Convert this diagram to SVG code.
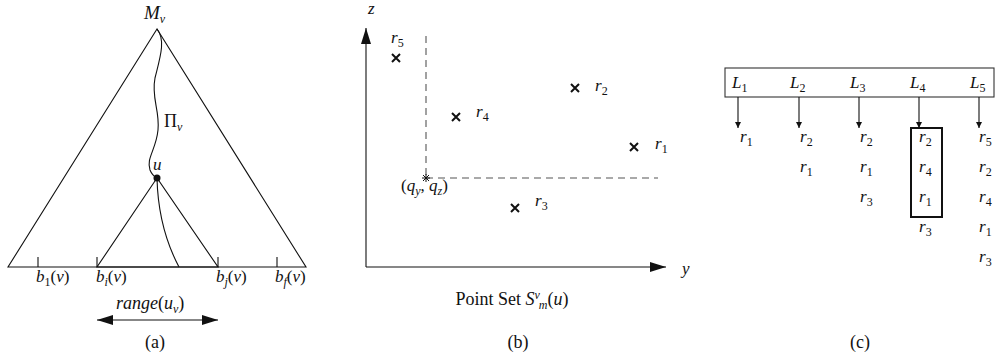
<svg xmlns="http://www.w3.org/2000/svg" width="995" height="358" viewBox="0 0 995 358">
<style>
text{font-family:"Liberation Serif",serif;font-size:17px;fill:#111}
.i{font-style:italic}
.s{font-size:12px;font-style:italic}
.sr{font-size:12px;font-style:normal}
.ln{stroke:#111;stroke-width:1.1;fill:none}
.dash{stroke:#555;stroke-width:1.1;stroke-dasharray:7,5;fill:none}
.x{stroke:#111;stroke-width:2;fill:none}
.cap{font-size:18px}
</style>
<defs>
<marker id="ah" viewBox="0 0 10 10" refX="10" refY="5" markerWidth="6" markerHeight="9" markerUnits="userSpaceOnUse" orient="auto-start-reverse"><path d="M0,0 L10,5 L0,10 z" fill="#111"/></marker>
<marker id="big" viewBox="0 0 16 10" refX="16" refY="5" markerWidth="16" markerHeight="10" markerUnits="userSpaceOnUse" orient="auto-start-reverse"><path d="M0,0 L16,5 L0,10 z" fill="#111"/></marker>
</defs>

<g id="panel-a">
<g id="tree">
<path class="ln" d="M157,29 L8,267 L306,267 Z"/>
<path class="ln" d="M157,178 L97,267 L218,267 Z"/>
<path class="ln" d="M157,29 C166,40 160,58 155,78 C151,98 160,110 158,130 C156,150 146,158 150,170 C152,175 155,177 157,178"/>
<path class="ln" d="M157,178 C158,220 170,250 179,267"/>
<circle cx="157" cy="178" r="3.5" fill="#111"/>
<path class="ln" d="M38,257 V267 M97,257 V267 M218,257 V267 M277,257 V267"/>
</g>
<text class="i" x="144" y="19" style="font-size:19px">M<tspan class="s" dy="4">v</tspan></text>
<text x="164" y="127" style="font-size:18px">Π<tspan class="s" dy="4">v</tspan></text>
<text class="i" x="153" y="170">u</text>
<text class="i" x="36" y="282">b<tspan class="sr" dy="4">1</tspan><tspan dy="-4" font-style="normal">(</tspan>v<tspan font-style="normal">)</tspan></text>
<text class="i" x="96" y="282">b<tspan class="s" dy="4">i</tspan><tspan dy="-4" font-style="normal">(</tspan>v<tspan font-style="normal">)</tspan></text>
<text class="i" x="216" y="282">b<tspan class="s" dy="4">j</tspan><tspan dy="-4" font-style="normal">(</tspan>v<tspan font-style="normal">)</tspan></text>
<text class="i" x="275" y="282">b<tspan class="s" dy="4">f</tspan><tspan dy="-4" font-style="normal">(</tspan>v<tspan font-style="normal">)</tspan></text>
<text class="i" x="116" y="309" style="font-size:18px">range<tspan font-style="normal">(</tspan>u<tspan class="s" dy="4">v</tspan><tspan dy="-4" font-style="normal">)</tspan></text>
<line class="ln" x1="97" y1="320" x2="218" y2="320" marker-start="url(#big)" marker-end="url(#big)"/>
<text class="cap" x="155" y="348" text-anchor="middle">(a)</text>
</g>

<g id="panel-b">
<g id="axes">
<line class="ln" x1="366" y1="267" x2="366" y2="28" marker-end="url(#big)"/>
<line class="ln" x1="366" y1="267" x2="666" y2="267" marker-end="url(#big)"/>
</g>
<text class="i" x="368" y="14">z</text>
<text class="i" x="682" y="274">y</text>
<path class="dash" d="M426,36 V178 M426,178 H658"/>
<path d="M422,178 H430 M426,174 V182 M423,175 L429,181 M429,175 L423,181" stroke="#111" stroke-width="1"/>
<text class="i" x="401" y="191"><tspan font-style="normal">(</tspan>q<tspan class="s" dy="4">y</tspan><tspan dy="-4" font-style="normal">, </tspan>q<tspan class="s" dy="4">z</tspan><tspan dy="-4" font-style="normal">)</tspan></text>
<g id="r5"><path class="x" d="M392,54 L400,62 M400,54 L392,62"/><text class="i" x="391" y="43">r<tspan class="sr" dy="4">5</tspan></text></g>
<g id="r4"><path class="x" d="M452,113 L460,121 M460,113 L452,121"/><text class="i" x="476" y="117">r<tspan class="sr" dy="4">4</tspan></text></g>
<g id="r2"><path class="x" d="M571,84 L579,92 M579,84 L571,92"/><text class="i" x="595" y="91">r<tspan class="sr" dy="4">2</tspan></text></g>
<g id="r1"><path class="x" d="M630,143 L638,151 M638,143 L630,151"/><text class="i" x="655" y="149">r<tspan class="sr" dy="4">1</tspan></text></g>
<g id="r3"><path class="x" d="M511,204 L519,212 M519,204 L511,212"/><text class="i" x="535" y="206">r<tspan class="sr" dy="4">3</tspan></text></g>
<text class="cap" x="512" y="305" text-anchor="middle">Point Set <tspan class="i">S</tspan><tspan class="s" dy="-6">v</tspan><tspan class="s" dx="-1" dy="10">m</tspan><tspan dy="-4">(</tspan><tspan class="i">u</tspan>)</text>
<text class="cap" x="518" y="348" text-anchor="middle">(b)</text>
</g>

<g id="panel-c">
<rect x="725" y="68" width="269" height="29" fill="none" stroke="#333" stroke-width="1.1"/>
<text class="i" x="732" y="88">L<tspan class="sr" dy="4">1</tspan></text>
<text class="i" x="790" y="88">L<tspan class="sr" dy="4">2</tspan></text>
<text class="i" x="850" y="88">L<tspan class="sr" dy="4">3</tspan></text>
<text class="i" x="910" y="88">L<tspan class="sr" dy="4">4</tspan></text>
<text class="i" x="970" y="88">L<tspan class="sr" dy="4">5</tspan></text>
<g id="connectors">
<line class="ln" x1="738" y1="97" x2="738" y2="128" marker-end="url(#ah)"/>
<line class="ln" x1="799" y1="97" x2="799" y2="128" marker-end="url(#ah)"/>
<line class="ln" x1="859" y1="97" x2="859" y2="128" marker-end="url(#ah)"/>
<line class="ln" x1="919" y1="97" x2="919" y2="128" marker-end="url(#ah)"/>
<line class="ln" x1="979" y1="97" x2="979" y2="128" marker-end="url(#ah)"/>
</g>
<rect x="911" y="128" width="31" height="89" fill="none" stroke="#111" stroke-width="2"/>
<g id="list1"><text class="i" x="740" y="142">r<tspan class="sr" dy="4">1</tspan></text></g>
<g id="list2"><text class="i" x="800" y="142">r<tspan class="sr" dy="4">2</tspan></text><text class="i" x="800" y="172">r<tspan class="sr" dy="4">1</tspan></text></g>
<g id="list3"><text class="i" x="860" y="142">r<tspan class="sr" dy="4">2</tspan></text><text class="i" x="860" y="172">r<tspan class="sr" dy="4">1</tspan></text><text class="i" x="860" y="202">r<tspan class="sr" dy="4">3</tspan></text></g>
<g id="list4"><text class="i" x="919" y="142">r<tspan class="sr" dy="4">2</tspan></text><text class="i" x="919" y="172">r<tspan class="sr" dy="4">4</tspan></text><text class="i" x="919" y="202">r<tspan class="sr" dy="4">1</tspan></text><text class="i" x="919" y="232">r<tspan class="sr" dy="4">3</tspan></text></g>
<g id="list5"><text class="i" x="979" y="142">r<tspan class="sr" dy="4">5</tspan></text><text class="i" x="979" y="172">r<tspan class="sr" dy="4">2</tspan></text><text class="i" x="979" y="202">r<tspan class="sr" dy="4">4</tspan></text><text class="i" x="979" y="232">r<tspan class="sr" dy="4">1</tspan></text><text class="i" x="979" y="262">r<tspan class="sr" dy="4">3</tspan></text></g>
<text class="cap" x="860" y="348" text-anchor="middle">(c)</text>
</g>
</svg>
